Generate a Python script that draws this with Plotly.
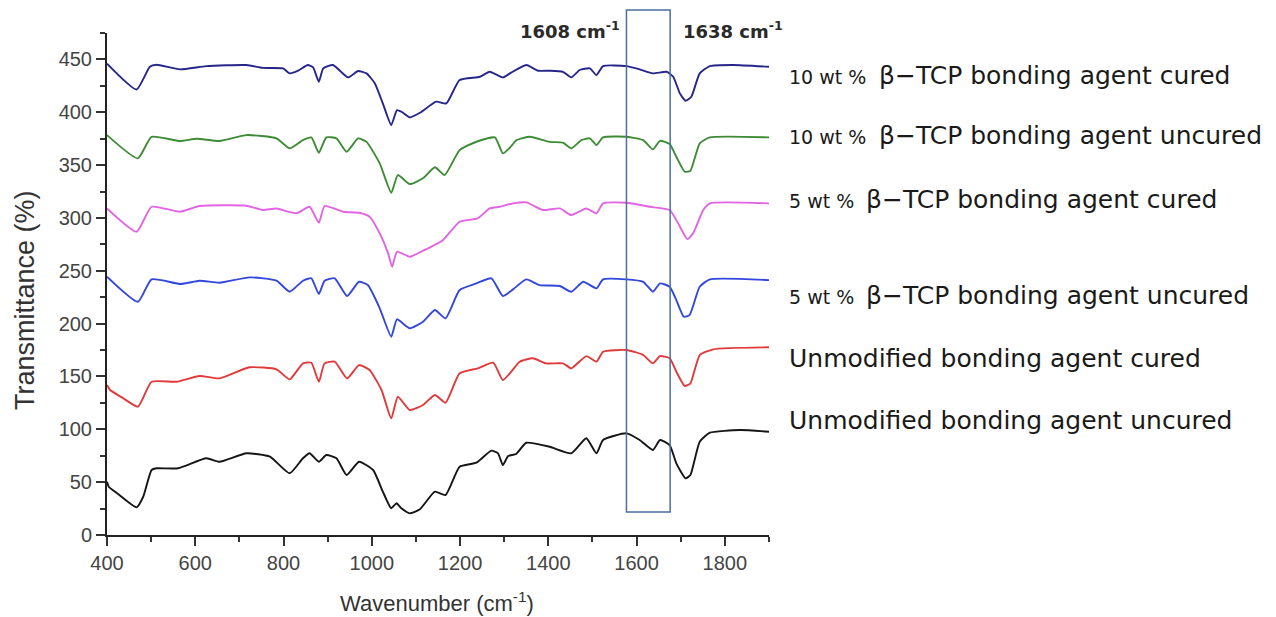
import plotly.graph_objects as go

# ---------------- data ----------------
wn_10c = [400, 467, 497, 512, 565, 625, 716, 753, 799, 814, 833, 855, 867, 880, 890, 912, 946, 969, 988, 1007,
          1025, 1044, 1057, 1067, 1086, 1109, 1146, 1169, 1199, 1245, 1267, 1297, 1313, 1350, 1377, 1403, 1433,
          1452, 1471, 1494, 1509, 1524, 1577, 1607, 1637, 1668, 1683, 1698, 1711, 1724, 1743, 1766, 1819, 1900]
t_10c = [446, 421.6, 443, 445, 440.6, 443.7, 444.7, 442, 441.5, 436.8, 439.3, 444.7, 442.4, 428.9, 441.5, 444.7,
         433, 439, 436.8, 427.3, 408.4, 387.9, 402, 400.5, 395.2, 399.5, 410, 408.4, 430.5, 433.6, 438.3, 433,
         436.8, 444.7, 439.3, 439.3, 438.3, 433, 440, 441.5, 435.2, 443.7, 443.7, 440.6, 436.8, 438.3, 433.6,
         417.9, 410.9, 414.7, 436.8, 443.7, 444.7, 443]

wn_10u = [400, 470, 501, 565, 603, 655, 716, 784, 814, 844, 863, 880, 897, 920, 943, 969, 988, 1018, 1044, 1059,
          1086, 1116, 1143, 1165, 1199, 1237, 1279, 1297, 1316, 1328, 1358, 1403, 1433, 1452, 1475, 1494, 1509,
          1524, 1577, 1615, 1637, 1653, 1675, 1690, 1709, 1722, 1743, 1766, 1900]
t_10u = [378.4, 356.4, 376.8, 372.8, 374.9, 372.8, 378.4, 375.3, 365.8, 373.7, 376.2, 361.7, 376.2, 375.3, 362.6,
         375.3, 372, 351.6, 323.8, 340.6, 332, 337.5, 347.9, 340.6, 364.2, 372.1, 376.2, 361.1, 368, 373.7, 376.8,
         372, 371.2, 365.8, 373.7, 375.3, 369, 376.2, 376.8, 373.7, 364.9, 373, 369.9, 357.9, 343.7, 344.7, 370.6,
         376.2, 376.2]

wn_5c = [400, 467, 501, 565, 610, 716, 753, 784, 829, 859, 880, 893, 935, 971, 995, 1018, 1037, 1046, 1057, 1086,
         1116, 1161, 1199, 1240, 1267, 1290, 1320, 1350, 1388, 1426, 1452, 1486, 1509, 1524, 1577, 1630, 1675,
         1694, 1715, 1728, 1751, 1766, 1900]
t_5c = [309, 287, 310.6, 305.9, 311.3, 311.6, 307.5, 309, 304.4, 310.6, 295.5, 311.3, 305.9, 304.9, 301.2, 285.4,
        266.5, 253.8, 268, 263.3, 269, 279, 296.4, 299.6, 309, 310.6, 313.8, 314.7, 307.5, 309, 302.7, 309, 304.4,
        313.8, 314.4, 310.6, 307.5, 294.9, 280, 285.4, 307.5, 313.8, 313.8]

wn_5u = [400, 470, 501, 567, 610, 655, 723, 784, 814, 844, 863, 880, 893, 916, 944, 971, 991, 1018, 1044, 1057,
         1086, 1116, 1143, 1167, 1199, 1237, 1271, 1297, 1320, 1350, 1380, 1426, 1452, 1479, 1509, 1524, 1577,
         1615, 1637, 1653, 1675, 1690, 1707, 1720, 1743, 1766, 1900]
t_5u = [244.4, 220.7, 241.9, 237.5, 240.6, 238.7, 243.8, 240.6, 230.2, 240.6, 242.9, 228, 240.6, 242.9, 226.1,
        239.6, 236.5, 214.5, 187.6, 204.1, 195.6, 201.8, 212.9, 205, 231.8, 238.1, 242.9, 226.1, 232.4, 241.9,
        236.5, 235.6, 230.2, 239.6, 233.4, 241.9, 241.9, 239.6, 230.2, 238.1, 234.9, 222.3, 206.5, 208.1, 234.9,
        241.9, 241.2]

wn_0c = [400, 407, 437, 470, 501, 557, 610, 655, 723, 784, 814, 844, 863, 880, 893, 916, 944, 971, 995, 1022,
         1044, 1059, 1086, 1116, 1143, 1167, 1199, 1240, 1275, 1297, 1316, 1335, 1365, 1395, 1433, 1452, 1486,
         1509, 1524, 1577, 1615, 1637, 1653, 1675, 1690, 1709, 1722, 1743, 1774, 1900]
t_0c = [141.9, 137.2, 129.3, 121.4, 145, 145, 150.4, 148.2, 158.7, 156.8, 147.3, 162.4, 163, 145, 162.4, 164,
        148.2, 160.8, 156.1, 137.2, 110.4, 130.8, 118.3, 123, 132.5, 125.2, 153, 157.7, 163, 146.6, 154.5, 164,
        167.2, 162.4, 162.4, 157.7, 169.3, 164, 173.4, 175, 170.3, 162.4, 169.3, 167.2, 154.5, 141, 143.5, 170.3,
        175.7, 177.6]

wn_0u = [400, 404, 423, 467, 482, 501, 512, 561, 625, 655, 716, 769, 814, 844, 859, 880, 897, 920, 943, 971, 1003,
         1025, 1044, 1056, 1067, 1086, 1109, 1143, 1167, 1199, 1237, 1271, 1286, 1297, 1309, 1327, 1350, 1403,
         1452, 1486, 1509, 1524, 1577, 1607, 1637, 1653, 1675, 1690, 1711, 1722, 1743, 1766, 1834, 1900]
t_0u = [50.4, 45.7, 39.4, 26.2, 36.2, 61.5, 63.1, 63.1, 72.6, 69.3, 77.3, 74.1, 58.4, 72.6, 77.3, 69.3, 75.7, 72.6,
        56.8, 69.3, 61.5, 41, 25.3, 30, 25.3, 20.5, 24.3, 41, 37.8, 64.6, 68.4, 79.8, 77.3, 66.2, 74.7, 76.6, 87.3,
        83.5, 77.3, 91.5, 77.3, 89.9, 96.2, 89.9, 80.4, 89.9, 85.1, 67.8, 53.6, 56.8, 88.3, 96.8, 99.3, 97.7]

series_prefix = ["10 wt %", "10 wt %", "5 wt %", "5 wt %", "", ""]
series_names = ["β−TCP bonding agent cured", "β−TCP bonding agent uncured",
                "β−TCP bonding agent cured", "β−TCP bonding agent uncured",
                "Unmodified bonding agent cured", "Unmodified bonding agent uncured"]
series_x = [wn_10c, wn_10u, wn_5c, wn_5u, wn_0c, wn_0u]
series_y = [t_10c, t_10u, t_5c, t_5u, t_0c, t_0u]
colors = ["#26268a", "#3d8c35", "#e264e2", "#3347dc", "#e03a3a", "#151515"]

band_labels = ["1608 cm<sup>-1</sup>", "1638 cm<sup>-1</sup>"]
band_box = [1577, 1676]   # wavenumber extent of the highlight box

x_range = [400, 1900]
y_range = [0, 475]

# ---------------- figure ----------------
W, H = 1276, 617
ml, mr, mt, mb = 107, 507, 33, 82
pw, ph = W - ml - mr, H - mt - mb

def py(ypx):
    return (H - mb - ypx) / ph

def px(xpx):
    return (xpx - ml) / pw

def wn_to_paper(w):
    return (w - x_range[0]) / (x_range[1] - x_range[0])

fig = go.Figure()
for xs, ys, c, nm in zip(series_x, series_y, colors, series_names):
    fig.add_trace(go.Scatter(x=xs, y=ys, mode="lines", name=nm,
                             line=dict(color=c, width=1.9, shape="spline", smoothing=0.5),
                             showlegend=False))

label_y_px = [75, 135, 199, 295, 358, 420]
name_x_px = [877, 877, 864, 864, 787, 787]
ann = []
for pre, nm, ypx, nx in zip(series_prefix, series_names, label_y_px, name_x_px):
    if pre:
        ann.append(dict(x=px(787), y=py(ypx + 2), xref="paper", yref="paper",
                        xanchor="left", yanchor="middle", showarrow=False, text=pre,
                        font=dict(family="DejaVu Sans", size=19, color="#1a1a1a")))
    ann.append(dict(x=px(nx), y=py(ypx), xref="paper", yref="paper",
                    xanchor="left", yanchor="middle", showarrow=False, text=nm,
                    font=dict(family="DejaVu Sans", size=25, color="#1a1a1a")))

for lab, xc in zip(band_labels, [570, 733]):
    ann.append(dict(x=px(xc), y=py(30), xref="paper", yref="paper",
                    xanchor="center", yanchor="middle", showarrow=False, text=lab,
                    font=dict(family="DejaVu Sans", size=18, color="#2a2a2a", weight="bold")))

ann.append(dict(x=px(437), y=py(602), xref="paper", yref="paper",
                xanchor="center", yanchor="middle", showarrow=False,
                text="Wavenumber (cm<sup>-1</sup>)",
                font=dict(family="Liberation Sans", size=22, color="#333333")))
ann.append(dict(x=px(25), y=py(300), xref="paper", yref="paper",
                xanchor="center", yanchor="middle", showarrow=False, textangle=-90,
                text="Transmittance (%)",
                font=dict(family="Liberation Sans", size=27, color="#333333")))

fig.add_shape(type="rect", xref="paper", yref="paper",
              x0=wn_to_paper(band_box[0]), x1=wn_to_paper(band_box[1]),
              y0=py(512), y1=py(10),
              line=dict(color="#4a6fa0", width=1.5), fillcolor="rgba(0,0,0,0)")

axis_common = dict(showline=True, linecolor="#222222", linewidth=2, ticks="outside",
                   ticklen=9, tickwidth=2, tickcolor="#333333", showgrid=False, zeroline=False,
                   tickfont=dict(family="Liberation Sans", size=20, color="#444444"))
fig.update_xaxes(range=x_range, dtick=200, tick0=400,
                 minor=dict(ticks="outside", ticklen=5, tickwidth=1.5, dtick=100, tickcolor="#333333"),
                 **axis_common)
fig.update_yaxes(range=y_range, dtick=50, tick0=0,
                 minor=dict(ticks="outside", ticklen=5, tickwidth=1.5, dtick=25, tickcolor="#333333"),
                 **axis_common)

fig.update_layout(width=W, height=H, autosize=False,
                  margin=dict(l=ml, r=mr, t=mt, b=mb, pad=0),
                  paper_bgcolor="white", plot_bgcolor="white",
                  annotations=ann, showlegend=False)

fig.write_html("out.html")
